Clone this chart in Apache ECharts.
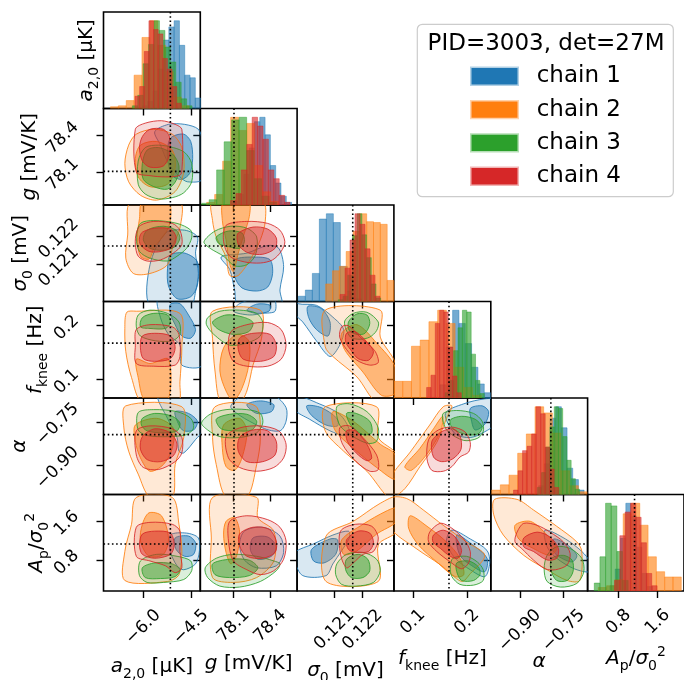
<!DOCTYPE html>
<html><head><meta charset="utf-8">
<script src="https://cdn.jsdelivr.net/npm/echarts@6/dist/echarts.min.js"></script>
<style>html,body{margin:0;padding:0;background:#fff}#c{width:684px;height:680px}</style>
</head><body><div id="c"></div>
<script>
// ---------------- data ----------------
const PARAMS = ['a20', 'g', 'sigma0', 'fknee', 'alpha', 'Ap'];
const AXIS_MIN = [-7.25, 77.83, 0.11969, 0.065, -1.0, 0.165];
const AXIS_MAX = [-4.21, 78.62, 0.1231, 0.244, -0.668, 2.14];
const TICK_VALUES = [[-6.0, -4.5], [78.1, 78.4], [0.121, 0.122], [0.1, 0.2], [-0.90, -0.75], [0.8, 1.6]];
const TICK_LABELS = [['\u22126.0', '\u22124.5'], ['78.1', '78.4'], ['0.121', '0.122'], ['0.1', '0.2'], ['\u22120.90', '\u22120.75'], ['0.8', '1.6']];
const TRUTH = [-5.15, 78.105, 0.12165, 0.1667, -0.794, 1.127];
const CHAINS = ['chain 1', 'chain 2', 'chain 3', 'chain 4'];
const LEGEND_TITLE = 'PID=3003, det=27M';

// histograms per parameter: one entry per chain: [lowEdge, highEdge, normalised heights]
const HIST_A20 = [
  [-6.03, -4.20, [0.03,0.08,0.2,0.45,0.78,0.93,1.0,0.72,0.38,0.35,0.12]],
  [-7.03, -4.56, [0.02,0.03,0.09,0.38,0.81,1.0,0.72,0.42,0.13,0.03]],
  [-6.345, -4.47, [0.03,0.15,0.51,0.73,1.0,0.89,0.70,0.53,0.30,0.11,0.03]],
  [-6.26, -4.805, [0.14,0.25,0.65,1.0,0.9,0.85,0.57,0.45,0.25,0.06]]
];
const HIST_G = [
  [78.099, 78.575, [0.04,0.12,0.35,0.65,0.95,1.0,0.8,0.45,0.25,0.1,0.03]],
  [77.882, 78.469, [0.03,0.12,0.5,1.0,0.85,0.93,0.45,0.15,0.04]],
  [77.841, 78.453, [0.02,0.06,0.40,0.72,0.97,1.0,0.62,0.3,0.1,0.03]],
  [78.077, 78.562, [0.05,0.13,0.4,0.69,1.0,0.9,0.75,0.4,0.3,0.11,0.03]]
];
const HIST_SIGMA0 = [
  [0.119734, 0.121953, [0.06,0.13,0.32,0.94,1.0,0.9,0.4,0.12,0.03]],
  [0.120697, 0.123104, [0.2,0.35,0.4,0.57,0.8,1.0,0.91,0.9,0.88,0.24]],
  [0.121143, 0.122634, [0.02,0.06,0.3,0.75,1.0,0.76,0.5,0.2,0.04]],
  [0.121202, 0.122611, [0.08,0.38,0.7,1.0,0.88,0.6,0.3,0.06]]
];
const HIST_FKNEE = [
  [0.15, 0.2436, [0.15,0.58,1.0,0.85,0.62,0.35,0.16,0.06]],
  [0.065, 0.2264, [0.19,0.19,0.59,0.66,0.87,1.0,0.85,0.35,0.12,0.03]],
  [0.15923, 0.2319, [0.06,0.2,0.54,0.8,1.0,0.98,0.5,0.2,0.05]],
  [0.12535, 0.18941, [0.12,0.26,0.85,1.0,0.98,0.58,0.25,0.06]]
];
const HIST_ALPHA = [
  [-0.836, -0.680, [0.1,0.35,0.87,1.0,0.76,0.3,0.17,0.05]],
  [-0.997, -0.670, [0.05,0.11,0.22,0.47,0.69,1.0,0.93,0.7,0.27,0.1,0.03]],
  [-0.8405, -0.6954, [0.08,0.25,0.54,0.77,1.0,0.98,0.66,0.39,0.18,0.06]],
  [-0.922, -0.767, [0.05,0.27,0.5,0.55,0.69,1.0,0.92,0.54,0.29,0.08]]
];
const HIST_AP = [
  [0.622, 1.492, [0.06,0.25,0.6,1.0,0.85,0.5,0.2,0.05]],
  [0.384, 2.084, [0.04,0.06,0.13,0.88,1.0,0.75,0.39,0.22,0.16,0.16]],
  [0.302, 0.996, [0.09,0.39,1.0,0.97,0.45,0.12]],
  [0.717, 1.588, [0.12,0.63,0.9,1.0,0.84,0.55,0.2,0.06]]
];

// 2-D credible regions, per chain: [outer (95%) contour, inner (68%) contour], vertices as [x, y] in data units
const CNT_G_A20 = [
  [[[-5.64,78.43],[-5.21,78.49],[-4.70,78.49],[-4.27,78.45],[-4.15,78.35],[-4.15,78.04],[-4.61,78.02],[-4.85,78.06],[-5.21,78.17],[-5.46,78.32]],
   [[-5.09,78.39],[-4.73,78.41],[-4.51,78.35],[-4.45,78.21],[-4.54,78.09],[-4.79,78.04],[-5.09,78.07],[-5.24,78.21],[-5.21,78.34]]],
  [[[-6.22,78.41],[-5.67,78.45],[-5.09,78.41],[-4.79,78.30],[-4.73,78.10],[-5.0,77.94],[-5.58,77.87],[-6.09,77.91],[-6.46,78.02],[-6.58,78.17],[-6.46,78.32]],
   [[-6.09,78.32],[-5.58,78.35],[-5.09,78.28],[-5.0,78.13],[-5.24,78.0],[-5.79,77.98],[-6.16,78.06],[-6.25,78.21]]],
  [[[-6.16,78.19],[-6.16,78.0],[-5.94,77.92],[-5.52,77.88],[-5.09,77.89],[-4.73,77.93],[-4.48,78.02],[-4.48,78.17],[-4.70,78.26],[-5.06,78.30],[-5.52,78.32],[-5.94,78.30]],
   [[-6.03,78.17],[-6.0,78.04],[-5.67,77.98],[-5.24,77.96],[-4.97,78.03],[-4.88,78.15],[-5.09,78.25],[-5.52,78.30],[-5.88,78.28]]],
  [[[-6.25,78.45],[-5.94,78.50],[-5.43,78.52],[-5.0,78.49],[-4.79,78.45],[-4.79,78.10],[-4.88,78.07],[-5.30,78.06],[-5.79,78.07],[-6.22,78.10]],
   [[-6.03,78.39],[-5.79,78.45],[-5.37,78.45],[-5.18,78.39],[-5.18,78.24],[-5.37,78.15],[-5.79,78.14],[-6.03,78.19],[-6.12,78.30]]]
];
const CNT_SIGMA0_A20 = [
  [[[-5.79,0.12099],[-5.30,0.12211],[-4.70,0.12221],[-4.30,0.12197],[-4.36,0.12140],[-4.27,0.12068],[-4.36,0.12003],[-4.51,0.11955],[-5.79,0.11955]],
   [[-5.15,0.12133],[-4.70,0.12140],[-4.30,0.12109],[-4.30,0.12027],[-4.51,0.11986],[-4.94,0.11979],[-5.21,0.12024],[-5.24,0.12085]]],
  [[[-6.40,0.1232],[-4.85,0.1232],[-4.85,0.12228],[-5.06,0.12170],[-5.24,0.12099],[-5.79,0.12068],[-6.31,0.12068],[-6.55,0.12122],[-6.49,0.12204]],
   [[-6.03,0.1232],[-5.21,0.1232],[-5.15,0.12255],[-5.30,0.12211],[-5.64,0.12163],[-5.82,0.12119],[-6.09,0.12129],[-6.19,0.12194],[-6.12,0.12262]]],
  [[[-6.09,0.12245],[-5.67,0.12255],[-4.94,0.12245],[-4.51,0.12221],[-4.48,0.12194],[-4.64,0.12157],[-4.94,0.12129],[-5.24,0.12112],[-5.79,0.12122],[-6.12,0.12146],[-6.22,0.12194]],
   [[-5.88,0.12221],[-5.37,0.12235],[-4.97,0.12221],[-4.85,0.12194],[-5.0,0.12163],[-5.37,0.12150],[-5.79,0.12157],[-6.0,0.12187]]],
  [[[-6.09,0.12238],[-5.67,0.12252],[-5.09,0.12245],[-4.85,0.12221],[-4.79,0.12170],[-5.06,0.12140],[-5.46,0.12116],[-5.88,0.12112],[-6.16,0.12129],[-6.25,0.12170],[-6.22,0.12211]],
   [[-6.03,0.12214],[-5.64,0.12228],[-5.15,0.12225],[-4.97,0.12197],[-5.06,0.12163],[-5.43,0.12146],[-5.82,0.12146],[-6.09,0.12170],[-6.12,0.12194]]]
];
const CNT_SIGMA0_G = [
  [[[78.0,0.12126],[78.07,0.12082],[78.11,0.12010],[78.14,0.11955],[78.49,0.11955],[78.48,0.12010],[78.51,0.12092],[78.47,0.12157],[78.38,0.12167],[78.21,0.12140]],
   [[78.11,0.12116],[78.29,0.12126],[78.40,0.12116],[78.42,0.12068],[78.38,0.12020],[78.29,0.12006],[78.17,0.12017],[78.11,0.12058]]],
  [[[77.93,0.1232],[78.34,0.1232],[78.36,0.12252],[78.32,0.12187],[78.25,0.12126],[78.14,0.12061],[78.07,0.12061],[78.04,0.12126],[77.96,0.12197],[77.93,0.12255]],
   [[78.02,0.1232],[78.225,0.1232],[78.23,0.12269],[78.19,0.12211],[78.14,0.12140],[78.10,0.12075],[78.07,0.12102],[78.04,0.12187],[78.01,0.12255]]],
  [[[77.86,0.12180],[77.95,0.12218],[78.08,0.12235],[78.21,0.12228],[78.29,0.12197],[78.28,0.12133],[78.21,0.12099],[78.11,0.12095],[78.02,0.12129],[77.91,0.12157]],
   [[77.96,0.12197],[78.06,0.12218],[78.17,0.12211],[78.19,0.12180],[78.15,0.12157],[78.06,0.12163],[77.98,0.12174]]],
  [[[78.04,0.12238],[78.21,0.12252],[78.38,0.12245],[78.48,0.12221],[78.52,0.12180],[78.49,0.12146],[78.42,0.12116],[78.32,0.12105],[78.19,0.12109],[78.07,0.12129],[78.02,0.12180]],
   [[78.14,0.12211],[78.26,0.12232],[78.38,0.12225],[78.45,0.12194],[78.44,0.12157],[78.34,0.12136],[78.225,0.12140],[78.15,0.12163],[78.13,0.12190]]]
];
const CNT_FKNEE_A20 = [
  [[[-5.52,0.25],[-4.15,0.25],[-4.15,0.126],[-4.79,0.126],[-4.85,0.163],[-5.21,0.183],[-5.46,0.214]],
   [[-5.15,0.239],[-4.85,0.240],[-4.58,0.219],[-4.36,0.192],[-4.51,0.176],[-4.79,0.180],[-5.0,0.201],[-5.15,0.222]]],
  [[[-6.52,0.224],[-6.22,0.226],[-4.85,0.222],[-4.79,0.160],[-4.85,0.095],[-4.91,0.056],[-6.03,0.056],[-6.37,0.103],[-6.55,0.151],[-6.58,0.194]],
   [[-6.22,0.137],[-5.79,0.129],[-5.21,0.137],[-5.24,0.060],[-5.94,0.060],[-6.16,0.103]]],
  [[[-6.16,0.219],[-5.79,0.228],[-5.24,0.222],[-4.88,0.206],[-4.85,0.183],[-5.09,0.171],[-5.61,0.171],[-6.09,0.180],[-6.22,0.197]],
   [[-6.03,0.214],[-5.67,0.222],[-5.24,0.219],[-5.15,0.205],[-5.30,0.194],[-5.79,0.194],[-6.09,0.197]]],
  [[[-6.22,0.192],[-5.79,0.201],[-5.09,0.197],[-4.88,0.183],[-4.85,0.142],[-5.0,0.126],[-5.67,0.124],[-6.22,0.129],[-6.25,0.163]],
   [[-6.03,0.180],[-5.64,0.185],[-5.15,0.180],[-5.0,0.158],[-5.15,0.138],[-5.64,0.133],[-6.0,0.138],[-6.09,0.158]]]
];
const CNT_FKNEE_G = [
  [[[78.10,0.226],[78.15,0.240],[78.29,0.25],[78.43,0.25],[78.44,0.226],[78.34,0.222],[78.23,0.219]],
   [[78.21,0.228],[78.29,0.239],[78.40,0.237],[78.39,0.226],[78.29,0.222]]],
  [[[77.93,0.226],[78.32,0.228],[78.33,0.176],[78.26,0.126],[78.21,0.078],[78.15,0.056],[78.0,0.056],[77.95,0.115],[77.93,0.176]],
   [[78.02,0.158],[78.13,0.183],[78.225,0.171],[78.225,0.126],[78.17,0.083],[78.10,0.060],[78.04,0.078],[77.99,0.115]]],
  [[[77.89,0.214],[77.99,0.226],[78.15,0.228],[78.29,0.222],[78.34,0.205],[78.32,0.180],[78.21,0.167],[78.07,0.163],[77.94,0.183],[77.88,0.201]],
   [[77.93,0.206],[78.04,0.219],[78.18,0.215],[78.26,0.205],[78.225,0.188],[78.10,0.183],[77.98,0.192]]],
  [[[78.08,0.188],[78.21,0.201],[78.38,0.205],[78.49,0.192],[78.53,0.163],[78.49,0.137],[78.38,0.124],[78.21,0.124],[78.10,0.133],[78.06,0.158]],
   [[78.15,0.176],[78.26,0.185],[78.40,0.183],[78.45,0.163],[78.43,0.142],[78.32,0.133],[78.18,0.137],[78.14,0.155]]]
];
const CNT_FKNEE_SIGMA0 = [
  [[[0.11972,0.240],[0.12037,0.237],[0.12095,0.215],[0.12133,0.192],[0.12119,0.163],[0.12085,0.142],[0.12037,0.171],[0.11989,0.206],[0.11960,0.222],[0.11960,0.25]],
   [[0.12007,0.235],[0.12054,0.231],[0.12085,0.206],[0.12078,0.180],[0.12037,0.192],[0.12010,0.214]]],
  [[[0.12068,0.228],[0.12262,0.228],[0.12262,0.178],[0.12315,0.129],[0.12315,0.056],[0.12249,0.056],[0.12180,0.104],[0.12095,0.142],[0.12068,0.160]],
   [[0.12126,0.185],[0.12180,0.201],[0.12249,0.167],[0.12315,0.122],[0.12315,0.074],[0.12266,0.070],[0.12201,0.113],[0.12136,0.155]]],
  [[[0.12136,0.206],[0.12167,0.222],[0.12215,0.224],[0.12255,0.206],[0.12249,0.190],[0.12225,0.178],[0.12191,0.174],[0.12157,0.178]],
   [[0.12150,0.206],[0.12180,0.221],[0.12215,0.219],[0.12225,0.203],[0.12208,0.185],[0.12180,0.183],[0.12153,0.190]]],
  [[[0.12126,0.197],[0.12150,0.199],[0.12191,0.178],[0.12242,0.153],[0.12255,0.131],[0.12225,0.126],[0.12180,0.135],[0.12143,0.155],[0.12119,0.178]],
   [[0.12143,0.185],[0.12174,0.188],[0.12215,0.169],[0.12238,0.151],[0.12221,0.135],[0.12184,0.138],[0.12157,0.155],[0.12140,0.169]]]
];
const CNT_ALPHA_A20 = [
  [[[-5.52,-0.66],[-4.15,-0.66],[-4.15,-0.781],[-4.36,-0.811],[-4.73,-0.857],[-4.88,-0.851],[-4.94,-0.804],[-5.24,-0.738]],
   [[-5.0,-0.715],[-4.58,-0.721],[-4.30,-0.748],[-4.42,-0.778],[-4.73,-0.781],[-4.88,-0.761]]],
  [[[-6.55,-0.695],[-4.79,-0.698],[-4.73,-0.804],[-5.0,-0.897],[-5.09,-1.01],[-5.79,-1.01],[-6.16,-0.930],[-6.46,-0.851],[-6.61,-0.771]],
   [[-6.25,-0.761],[-5.58,-0.738],[-5.06,-0.771],[-5.09,-0.841],[-5.37,-0.897],[-5.79,-0.920],[-6.09,-0.874],[-6.25,-0.817]]],
  [[[-6.16,-0.718],[-5.67,-0.708],[-4.94,-0.715],[-4.51,-0.738],[-4.42,-0.771],[-4.64,-0.794],[-5.24,-0.801],[-5.88,-0.797],[-6.16,-0.778]],
   [[-6.03,-0.738],[-5.64,-0.721],[-5.09,-0.731],[-4.85,-0.754],[-4.94,-0.781],[-5.37,-0.788],[-5.88,-0.781],[-6.06,-0.761]]],
  [[[-6.22,-0.781],[-5.79,-0.764],[-5.09,-0.774],[-4.79,-0.804],[-4.79,-0.857],[-5.0,-0.887],[-5.52,-0.914],[-6.0,-0.907],[-6.22,-0.864]],
   [[-6.03,-0.801],[-5.64,-0.774],[-5.15,-0.788],[-4.94,-0.827],[-5.06,-0.867],[-5.46,-0.887],[-5.88,-0.880],[-6.09,-0.844]]]
];
const CNT_ALPHA_G = [
  [[[78.08,-0.701],[78.18,-0.66],[78.43,-0.66],[78.53,-0.701],[78.53,-0.748],[78.48,-0.781],[78.34,-0.771]],
   [[78.21,-0.691],[78.32,-0.678],[78.43,-0.691],[78.41,-0.715],[78.29,-0.721]]],
  [[[77.95,-0.698],[78.28,-0.695],[78.32,-0.804],[78.29,-0.897],[78.21,-1.01],[78.04,-1.01],[77.96,-0.897],[77.93,-0.804]],
   [[78.02,-0.761],[78.15,-0.738],[78.21,-0.781],[78.17,-0.874],[78.11,-0.917],[78.04,-0.904],[78.01,-0.841]]],
  [[[77.84,-0.754],[77.91,-0.724],[78.04,-0.708],[78.21,-0.708],[78.32,-0.721],[78.34,-0.754],[78.29,-0.788],[78.15,-0.804],[77.99,-0.801],[77.89,-0.778]],
   [[77.96,-0.741],[78.07,-0.724],[78.21,-0.724],[78.29,-0.748],[78.25,-0.778],[78.12,-0.781],[78.0,-0.774]]],
  [[[78.04,-0.801],[78.15,-0.771],[78.32,-0.764],[78.47,-0.781],[78.53,-0.827],[78.51,-0.874],[78.43,-0.907],[78.29,-0.920],[78.15,-0.907],[78.06,-0.874]],
   [[78.15,-0.804],[78.26,-0.778],[78.38,-0.781],[78.45,-0.817],[78.44,-0.864],[78.34,-0.887],[78.21,-0.887],[78.14,-0.851]]]
];
const CNT_ALPHA_SIGMA0 = [
  [[[0.1196,-0.66],[0.12047,-0.688],[0.12119,-0.724],[0.12153,-0.778],[0.12136,-0.797],[0.12085,-0.781],[0.12013,-0.741],[0.1196,-0.708]],
   [[0.12003,-0.695],[0.12054,-0.701],[0.12109,-0.738],[0.12112,-0.764],[0.12071,-0.761],[0.12020,-0.728]]],
  [[[0.12068,-0.698],[0.12249,-0.698],[0.12255,-0.804],[0.1232,-0.864],[0.1232,-1.01],[0.12290,-1.01],[0.12215,-0.920],[0.12133,-0.851],[0.12068,-0.781]],
   [[0.12095,-0.715],[0.12167,-0.748],[0.12262,-0.827],[0.12315,-0.864],[0.12315,-0.947],[0.12249,-0.907],[0.12167,-0.841],[0.12102,-0.778]]],
  [[[0.12109,-0.698],[0.12153,-0.688],[0.12215,-0.715],[0.12255,-0.771],[0.12249,-0.817],[0.12218,-0.824],[0.12167,-0.801],[0.12119,-0.761]],
   [[0.12143,-0.721],[0.12177,-0.721],[0.12225,-0.748],[0.12232,-0.788],[0.12201,-0.794],[0.12160,-0.764]]],
  [[[0.12119,-0.771],[0.12153,-0.764],[0.12201,-0.804],[0.12249,-0.864],[0.12255,-0.914],[0.12225,-0.920],[0.12177,-0.887],[0.12129,-0.827]],
   [[0.12143,-0.781],[0.12174,-0.781],[0.12215,-0.827],[0.12232,-0.874],[0.12215,-0.884],[0.12177,-0.857],[0.12146,-0.817]]]
];
const CNT_ALPHA_FKNEE = [
  [[[0.160,-0.721],[0.194,-0.688],[0.233,-0.671],[0.25,-0.675],[0.25,-0.758],[0.233,-0.784],[0.206,-0.804],[0.178,-0.791]],
   [[0.206,-0.704],[0.228,-0.695],[0.240,-0.715],[0.233,-0.758],[0.215,-0.778],[0.208,-0.744]]],
  [[[0.06,-0.940],[0.095,-0.854],[0.131,-0.761],[0.156,-0.698],[0.172,-0.695],[0.162,-0.738],[0.144,-0.821],[0.113,-0.904],[0.085,-0.980],[0.06,-1.01]],
   [[0.085,-0.904],[0.113,-0.841],[0.138,-0.774],[0.155,-0.731],[0.151,-0.784],[0.126,-0.861],[0.097,-0.917]]],
  [[[0.156,-0.721],[0.181,-0.711],[0.212,-0.721],[0.228,-0.748],[0.230,-0.784],[0.219,-0.807],[0.194,-0.814],[0.165,-0.784],[0.156,-0.751]],
   [[0.169,-0.744],[0.190,-0.731],[0.215,-0.741],[0.228,-0.768],[0.221,-0.791],[0.199,-0.794],[0.174,-0.774]]],
  [[[0.129,-0.811],[0.147,-0.778],[0.172,-0.768],[0.196,-0.784],[0.206,-0.821],[0.203,-0.854],[0.187,-0.871],[0.172,-0.904],[0.156,-0.920],[0.135,-0.917],[0.126,-0.877]],
   [[0.135,-0.817],[0.153,-0.784],[0.174,-0.774],[0.187,-0.797],[0.189,-0.844],[0.174,-0.877],[0.153,-0.887],[0.138,-0.871]]]
];
const CNT_AP_A20 = [
  [[[-5.15,1.31],[-4.64,1.35],[-4.27,1.25],[-4.24,0.975],[-4.36,0.72],[-4.73,0.60],[-4.94,0.68],[-5.15,0.975]],
   [[-5.0,1.25],[-4.58,1.29],[-4.36,1.15],[-4.42,0.915],[-4.70,0.875],[-4.97,1.015]]],
  [[[-6.22,2.08],[-5.09,2.08],[-4.88,1.53],[-4.79,0.975],[-4.88,0.50],[-5.24,0.36],[-6.58,0.38],[-6.58,0.975],[-6.37,1.53]],
   [[-5.82,1.765],[-5.43,1.705],[-5.21,1.25],[-5.37,0.915],[-5.82,0.875],[-6.09,1.19],[-6.03,1.53]]],
  [[[-6.09,0.78],[-5.58,0.915],[-4.94,0.875],[-4.51,0.78],[-4.48,0.58],[-4.73,0.40],[-5.37,0.34],[-5.88,0.34],[-6.12,0.48]],
   [[-6.03,0.64],[-5.64,0.74],[-5.09,0.72],[-4.85,0.60],[-5.0,0.46],[-5.46,0.42],[-5.94,0.44]]],
  [[[-6.22,1.47],[-5.79,1.57],[-5.09,1.53],[-4.85,1.39],[-4.85,0.975],[-4.79,0.64],[-5.0,0.54],[-5.30,0.68],[-5.79,0.78],[-6.22,0.875]],
   [[-6.03,1.33],[-5.64,1.39],[-5.15,1.35],[-5.03,1.11],[-5.15,0.915],[-5.64,0.835],[-6.03,0.915],[-6.12,1.11]]]
];
const CNT_AP_G = [
  [[[78.19,1.39],[78.34,1.47],[78.48,1.29],[78.51,0.955],[78.45,0.68],[78.29,0.64],[78.19,0.80],[78.15,1.11]],
   [[78.26,1.25],[78.38,1.27],[78.45,1.07],[78.41,0.875],[78.30,0.815],[78.24,0.995]]],
  [[[77.93,2.08],[78.29,2.08],[78.30,1.665],[78.43,1.39],[78.43,0.78],[78.29,0.44],[78.10,0.34],[77.93,0.44],[77.92,1.25]],
   [[78.04,1.59],[78.11,1.665],[78.15,1.39],[78.13,0.915],[78.08,0.72],[78.04,0.955],[78.02,1.33]]],
  [[[77.87,0.64],[77.96,0.835],[78.10,0.915],[78.29,0.875],[78.43,0.78],[78.48,0.72],[78.45,0.58],[78.32,0.36],[78.15,0.245],[77.99,0.265],[77.89,0.44]],
   [[77.93,0.72],[78.07,0.815],[78.23,0.795],[78.30,0.64],[78.23,0.48],[78.07,0.44],[77.95,0.50]]],
  [[[78.07,1.59],[78.21,1.705],[78.38,1.625],[78.48,1.47],[78.53,1.19],[78.51,0.815],[78.43,0.58],[78.32,0.50],[78.21,0.60],[78.10,0.78],[78.06,1.19]],
   [[78.15,1.33],[78.26,1.47],[78.39,1.43],[78.45,1.19],[78.44,0.955],[78.34,0.835],[78.21,0.875],[78.15,1.09]]]
];
const CNT_AP_SIGMA0 = [
  [[[0.1196,0.955],[0.12027,1.13],[0.12095,1.31],[0.12150,1.39],[0.12153,1.25],[0.12095,0.72],[0.12071,0.48],[0.11989,0.48],[0.1196,0.78]],
   [[0.12020,1.015],[0.12085,1.23],[0.12112,1.21],[0.12105,0.915],[0.12064,0.74],[0.12027,0.78]]],
  [[[0.12071,1.29],[0.12167,1.59],[0.12262,1.96],[0.1232,2.08],[0.1232,1.39],[0.12255,1.11],[0.12255,0.36],[0.12071,0.36]],
   [[0.12126,1.21],[0.12201,1.53],[0.12283,1.80],[0.1232,1.86],[0.1232,1.59],[0.12249,1.33],[0.12177,0.975],[0.12133,0.915]]],
  [[[0.12109,0.72],[0.12143,0.915],[0.12201,0.955],[0.12249,0.815],[0.12262,0.58],[0.12238,0.34],[0.12177,0.265],[0.12126,0.30],[0.12105,0.50]],
   [[0.12143,0.815],[0.12184,0.915],[0.12218,0.815],[0.12225,0.58],[0.12201,0.44],[0.12160,0.44],[0.12140,0.60]]],
  [[[0.12122,1.39],[0.12174,1.53],[0.12232,1.49],[0.12255,1.25],[0.12238,0.975],[0.12201,0.915],[0.12167,0.74],[0.12143,0.64],[0.12122,0.915]],
   [[0.12143,1.21],[0.12184,1.39],[0.12225,1.35],[0.12238,1.15],[0.12221,0.975],[0.12177,0.955],[0.12150,1.015]]]
];
const CNT_AP_FKNEE = [
  [[[0.172,1.41],[0.206,1.23],[0.237,0.995],[0.242,0.74],[0.233,0.46],[0.206,0.60],[0.178,0.835],[0.162,1.17]],
   [[0.181,1.31],[0.208,1.13],[0.237,0.835],[0.233,0.56],[0.212,0.66],[0.187,0.895]]],
  [[[0.06,2.06],[0.088,2.06],[0.119,1.825],[0.156,1.51],[0.199,1.17],[0.233,0.895],[0.206,0.52],[0.190,0.36],[0.151,0.70],[0.106,1.035],[0.06,1.45]],
   [[0.095,1.705],[0.126,1.49],[0.162,1.17],[0.187,0.835],[0.194,0.50],[0.178,0.46],[0.144,0.76],[0.110,1.11],[0.092,1.45]]],
  [[[0.174,0.835],[0.199,0.875],[0.219,0.76],[0.230,0.60],[0.230,0.38],[0.212,0.285],[0.187,0.30],[0.172,0.46],[0.169,0.66]],
   [[0.181,0.74],[0.203,0.78],[0.221,0.66],[0.224,0.50],[0.212,0.38],[0.190,0.38],[0.181,0.56]]],
  [[[0.131,1.37],[0.151,1.55],[0.172,1.45],[0.194,1.23],[0.206,0.975],[0.203,0.74],[0.190,0.62],[0.169,0.76],[0.144,0.975],[0.129,1.17]],
   [[0.138,1.31],[0.156,1.41],[0.178,1.27],[0.190,0.995],[0.183,0.835],[0.169,0.875],[0.151,1.035],[0.137,1.17]]]
];
const CNT_AP_ALPHA = [
  [[[-0.814,1.41],[-0.744,1.23],[-0.688,0.975],[-0.66,0.76],[-0.66,0.56],[-0.714,0.62],[-0.774,0.835],[-0.807,1.07]],
   [[-0.784,1.23],[-0.738,1.11],[-0.705,0.895],[-0.721,0.76],[-0.768,0.875],[-0.791,1.035]]],
  [[[-0.987,2.04],[-0.910,2.04],[-0.854,1.825],[-0.774,1.49],[-0.705,1.17],[-0.688,0.975],[-0.695,0.38],[-0.738,0.38],[-0.807,0.60],[-0.887,0.895],[-0.957,1.31],[-0.990,1.725]],
   [[-0.917,1.51],[-0.864,1.59],[-0.807,1.31],[-0.774,1.035],[-0.797,0.895],[-0.854,1.035],[-0.904,1.23]]],
  [[[-0.807,0.895],[-0.774,1.07],[-0.728,1.035],[-0.688,0.835],[-0.681,0.56],[-0.705,0.32],[-0.761,0.245],[-0.807,0.36],[-0.817,0.62]],
   [[-0.791,0.835],[-0.751,0.895],[-0.721,0.795],[-0.718,0.56],[-0.738,0.38],[-0.774,0.38],[-0.794,0.60]]],
  [[[-0.910,1.37],[-0.887,1.55],[-0.841,1.51],[-0.797,1.37],[-0.751,1.17],[-0.728,0.935],[-0.738,0.70],[-0.778,0.60],[-0.814,0.62],[-0.854,0.80],[-0.894,1.035],[-0.917,1.17]],
   [[-0.887,1.25],[-0.841,1.37],[-0.797,1.27],[-0.768,1.035],[-0.774,0.835],[-0.807,0.80],[-0.854,0.975],[-0.887,1.07]]]
];

// ---------------- assembly ----------------
const HISTS = [HIST_A20, HIST_G, HIST_SIGMA0, HIST_FKNEE, HIST_ALPHA, HIST_AP];
const CONTOURS = {
  '1,0': CNT_G_A20,
  '2,0': CNT_SIGMA0_A20, '2,1': CNT_SIGMA0_G,
  '3,0': CNT_FKNEE_A20, '3,1': CNT_FKNEE_G, '3,2': CNT_FKNEE_SIGMA0,
  '4,0': CNT_ALPHA_A20, '4,1': CNT_ALPHA_G, '4,2': CNT_ALPHA_SIGMA0, '4,3': CNT_ALPHA_FKNEE,
  '5,0': CNT_AP_A20, '5,1': CNT_AP_G, '5,2': CNT_AP_SIGMA0, '5,3': CNT_AP_FKNEE, '5,4': CNT_AP_ALPHA
};

// styling / layout
const COLORS = ['#1f77b4', '#ff7f0e', '#2ca02c', '#d62728'];
const FONT = 'DejaVu Sans';
const PANEL_X = [103.5, 200.3, 297.1, 394.0, 490.8, 587.6];
const PANEL_Y = [12, 108.5, 205, 301.5, 398, 494.5];
const PANEL_W = 96.8, PANEL_H = 96.5;
const TICK_FONT = 17;
const X_LABEL_MARGIN = [36, 34.8, 38.6, 30.9, 39.8, 30.9];
const Y_LABEL_MARGIN = [38, 38.3, 42.1, 34.4, 43.3, 34.4];
const HIST_TOP = 1.1;
const OUTER_A = 0.17, INNER_A = 0.47, HIST_A = 0.62;

function rgba(hex, a) {
  const n = parseInt(hex.slice(1), 16);
  return 'rgba(' + ((n >> 16) & 255) + ',' + ((n >> 8) & 255) + ',' + (n & 255) + ',' + a + ')';
}
function tickLabel(p, v) {
  const t = TICK_VALUES[p];
  const tol = (AXIS_MAX[p] - AXIS_MIN[p]) * 1e-6;
  for (let i = 0; i < t.length; i++) if (Math.abs(t[i] - v) < tol) return TICK_LABELS[p][i];
  return '';
}
function makeAxis(p, gi, dim, withLabels) {
  return {
    type: 'value', gridIndex: gi, min: AXIS_MIN[p], max: AXIS_MAX[p],
    position: dim === 'x' ? 'bottom' : 'left',
    axisLine: { show: false }, splitLine: { show: false },
    axisTick: { show: true, customValues: TICK_VALUES[p], length: 7, inside: false, lineStyle: { color: '#000', width: 1.4 } },
    axisLabel: {
      show: withLabels, customValues: TICK_VALUES[p], formatter: v => tickLabel(p, v),
      rotate: 45, align: 'center', verticalAlign: 'middle',
      margin: dim === 'x' ? X_LABEL_MARGIN[p] : Y_LABEL_MARGIN[p],
      padding: dim === 'x' ? 0 : [7, 7, 0, 0],
      fontSize: TICK_FONT, color: '#000', fontFamily: FONT
    }
  };
}
function vLine(api, cs, xv) {
  const x = api.coord([xv, 0])[0];
  return { type: 'line', shape: { x1: x, y1: cs.y, x2: x, y2: cs.y + cs.height },
    style: { stroke: '#000', lineWidth: 1.6, lineDash: [1.6, 2.6] } };
}
function hLine(api, cs, yv, xv) {
  const y = api.coord([xv, yv])[1];
  return { type: 'line', shape: { x1: cs.x, y1: y, x2: cs.x + cs.width, y2: y },
    style: { stroke: '#000', lineWidth: 1.6, lineDash: [1.6, 2.6] } };
}

const grids = [], xAxes = [], yAxes = [], series = [];
for (let r = 0; r < 6; r++) {
  for (let c = 0; c <= r; c++) {
    const gi = grids.length;
    grids.push({ left: PANEL_X[c], top: PANEL_Y[r], width: PANEL_W, height: PANEL_H,
      show: true, borderColor: '#000', borderWidth: 1.6, backgroundColor: 'rgba(0,0,0,0)' });
    const xi = xAxes.length;
    xAxes.push(makeAxis(c, gi, 'x', r === 5));
    const yi = yAxes.length;
    if (r === c) {
      yAxes.push({ type: 'value', gridIndex: gi, min: 0, max: HIST_TOP, show: false });
      if (r > 0) yAxes.push(makeAxis(r, gi, 'y', false));
      const items = [];
      HISTS[c].forEach((h, k) => {
        const lo = h[0], hi = h[1], hs = h[2], w = (hi - lo) / hs.length;
        hs.forEach((v, j) => items.push({ kind: 'bar', k: k, x0: lo + j * w, x1: lo + (j + 1) * w, h: v }));
      });
      items.push({ kind: 'v' });
      series.push({
        type: 'custom', xAxisIndex: xi, yAxisIndex: yi, clip: true, silent: true, animation: false,
        data: items.map(it => it.kind === 'bar' ? [it.x0, it.h] : [TRUTH[c], 0]),
        renderItem: (params, api) => {
          const it = items[params.dataIndex];
          const cs = params.coordSys;
          if (it.kind === 'v') return vLine(api, cs, TRUTH[c]);
          const a = api.coord([it.x0, 0]), b = api.coord([it.x1, it.h]);
          return { type: 'rect', shape: { x: a[0], y: b[1], width: b[0] - a[0], height: a[1] - b[1] },
            style: { fill: rgba(COLORS[it.k], HIST_A), stroke: rgba(COLORS[it.k], 0.55), lineWidth: 0.8 } };
        }
      });
    } else {
      yAxes.push(makeAxis(r, gi, 'y', c === 0));
      const items = [];
      CONTOURS[r + ',' + c].forEach((lv, k) => {
        items.push({ kind: 'poly', k: k, inner: false, pts: lv[0] });
        items.push({ kind: 'poly', k: k, inner: true, pts: lv[1] });
      });
      items.push({ kind: 'v' });
      items.push({ kind: 'h' });
      series.push({
        type: 'custom', xAxisIndex: xi, yAxisIndex: yi, clip: true, silent: true, animation: false,
        data: items.map(it => it.kind === 'poly' ? it.pts[0] : [TRUTH[c], TRUTH[r]]),
        renderItem: (params, api) => {
          const it = items[params.dataIndex];
          const cs = params.coordSys;
          if (it.kind === 'v') return vLine(api, cs, TRUTH[c]);
          if (it.kind === 'h') return hLine(api, cs, TRUTH[r], TRUTH[c]);
          return { type: 'polygon',
            shape: { points: it.pts.map(p => api.coord(p)), smooth: 0.3 },
            style: { fill: rgba(COLORS[it.k], it.inner ? INNER_A : OUTER_A), stroke: rgba(COLORS[it.k], 0.85), lineWidth: 1 } };
        }
      });
    }
  }
}

// axis titles (real text, mathtext-like with rich styles)
const RICH = {
  i: { fontStyle: 'italic', fontSize: 20, fontFamily: FONT, lineHeight: 28 },
  n: { fontSize: 20, fontFamily: FONT, lineHeight: 28 },
  s: { fontSize: 14, fontFamily: FONT, verticalAlign: 'bottom', lineHeight: 13 },
  u: { fontSize: 14, fontFamily: FONT, verticalAlign: 'top', lineHeight: 16 }
};
const AXIS_TITLES = [
  '{i|a}{s|2,0}{n| [µK]}',
  '{i|g}{n| [mV/K]}',
  '{i|σ}{s|0}{n| [mV]}',
  '{i|f}{s|knee}{n| [Hz]}',
  '{i|α}',
  '{i|A}{s|p}{n|/}{i|σ}{s|0}{u|2}'
];
const Y_TITLE_X = [87, 30, 21, 36, 20, 37];
const X_TITLE_Y = [667, 664, 671, 659, 662, 659];

const graphic = [];
for (let p = 0; p < 6; p++) {
  graphic.push({ type: 'text', x: Y_TITLE_X[p], y: PANEL_Y[p] + PANEL_H / 2, rotation: Math.PI / 2, silent: true,
    style: { text: AXIS_TITLES[p], rich: RICH, fill: '#000', align: 'center', verticalAlign: 'middle', textAlign: 'center', textVerticalAlign: 'middle' } });
  graphic.push({ type: 'text', x: PANEL_X[p] + PANEL_W / 2, y: X_TITLE_Y[p], silent: true,
    style: { text: AXIS_TITLES[p], rich: RICH, fill: '#000', align: 'center', verticalAlign: 'middle', textAlign: 'center', textVerticalAlign: 'middle' } });
}
// legend
graphic.push({ type: 'rect', silent: true, shape: { x: 417.3, y: 24.3, width: 256, height: 172.4, r: 5 },
  style: { fill: 'rgba(255,255,255,0.8)', stroke: '#cccccc', lineWidth: 1.2 } });
graphic.push({ type: 'text', silent: true, x: 546, y: 44,
  style: { text: LEGEND_TITLE, font: '23px "DejaVu Sans"', fill: '#000', align: 'center', verticalAlign: 'middle', textAlign: 'center', textVerticalAlign: 'middle' } });
CHAINS.forEach((name, k) => {
  const cy = 76.3 + k * 33.3;
  graphic.push({ type: 'rect', silent: true, shape: { x: 471.5, y: cy - 8.2, width: 46, height: 16.4 },
    style: { fill: COLORS[k], stroke: rgba(COLORS[k], 0.35), lineWidth: 3 } });
  graphic.push({ type: 'text', silent: true, x: 536.7, y: cy,
    style: { text: name, font: '23px "DejaVu Sans"', fill: '#000', align: 'left', verticalAlign: 'middle', textAlign: 'left', textVerticalAlign: 'middle' } });
});

const chart = echarts.init(document.getElementById('c'), null, { renderer: 'canvas' });
chart.setOption({
  animation: false,
  backgroundColor: '#fff',
  textStyle: { fontFamily: FONT },
  grid: grids, xAxis: xAxes, yAxis: yAxes, series: series,
  graphic: graphic
});
</script></body></html>
